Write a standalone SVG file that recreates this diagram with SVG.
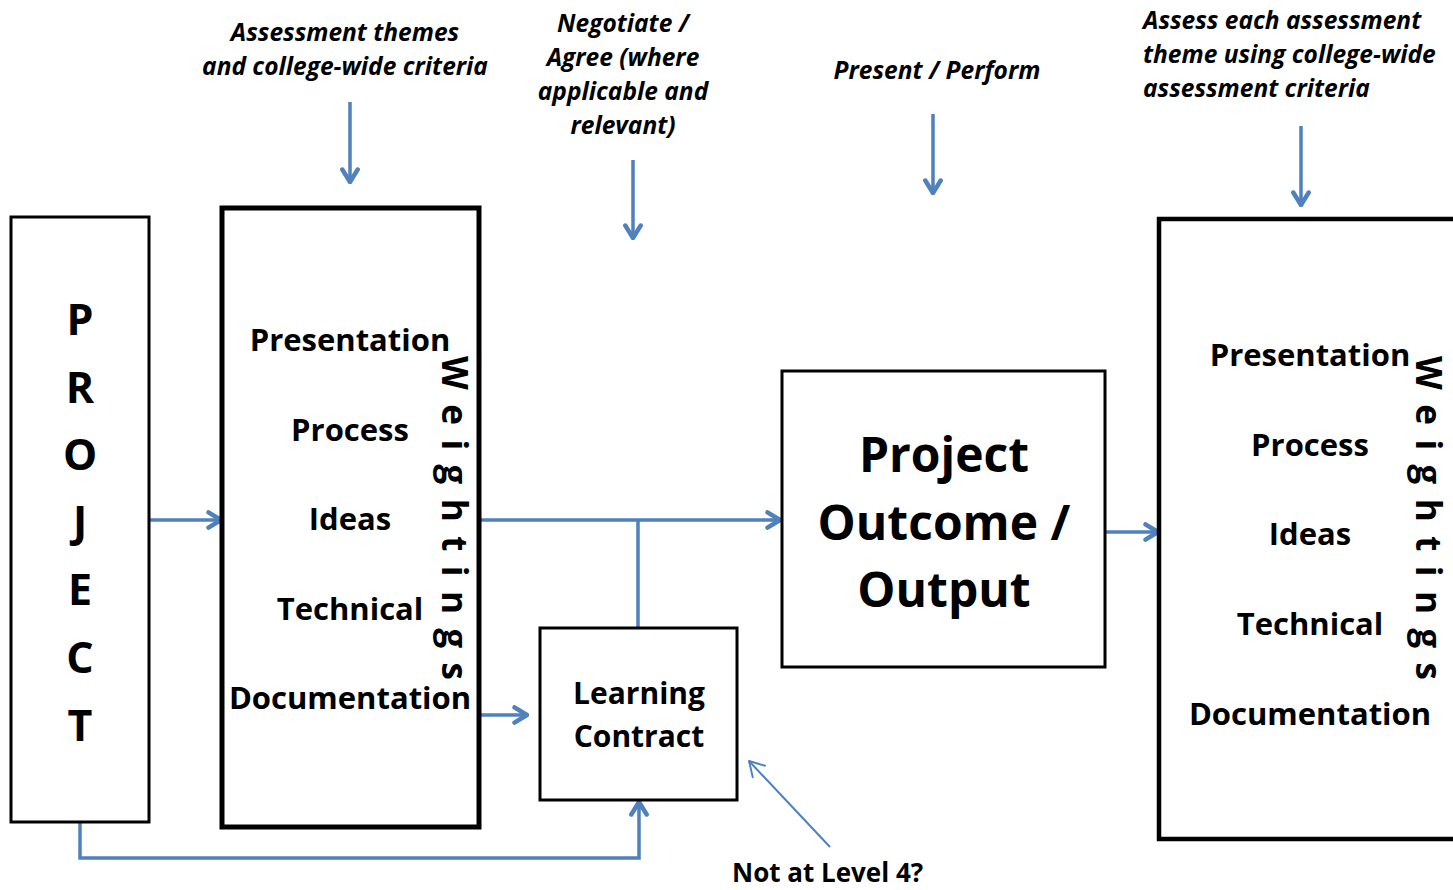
<svg xmlns="http://www.w3.org/2000/svg" width="1453" height="890" viewBox="0 0 1453 890">
  <style>
    .box { fill: #ffffff; stroke: #000000; }
    .lbl { font-family: "Open Sans", "Noto Sans", sans-serif; font-weight: 700; fill: #000000; }
    .note { font-family: "Open Sans", "Noto Sans", sans-serif; font-weight: 700; font-style: italic; font-size: 24.5px; fill: #000000; }
    .conn { fill: none; stroke: #4f81bd; stroke-width: 3.5; }
    .thin { fill: none; stroke: #4f81bd; stroke-width: 2; }
  </style>
  <defs>
    <marker id="chev" viewBox="0 0 10 10" refX="9" refY="5" markerWidth="5.5" markerHeight="5.5" markerUnits="strokeWidth" orient="auto">
      <polyline points="2.5,1 9,5 2.5,9" fill="none" stroke="#4f81bd" stroke-width="2.3" stroke-linecap="round" stroke-linejoin="round"/>
    </marker>
    <marker id="chevThin" viewBox="0 0 10 10" refX="9" refY="5" markerWidth="12" markerHeight="12" markerUnits="strokeWidth" orient="auto">
      <polyline points="3,1.5 9,5 3,8.5" fill="none" stroke="#4f81bd" stroke-width="0.8" stroke-linecap="round" stroke-linejoin="round"/>
    </marker>
  </defs>
  <rect width="1453" height="890" fill="#ffffff"/>

  <!-- connectors -->
  <g id="connectors">
    <line class="conn" x1="350" y1="102" x2="350" y2="182" marker-end="url(#chev)"/>
    <line class="conn" x1="633" y1="160" x2="633" y2="238" marker-end="url(#chev)"/>
    <line class="conn" x1="933" y1="114" x2="933" y2="193" marker-end="url(#chev)"/>
    <line class="conn" x1="1301" y1="126" x2="1301" y2="205" marker-end="url(#chev)"/>
    <line class="conn" x1="149" y1="520" x2="221" y2="520" marker-end="url(#chev)"/>
    <line class="conn" x1="480" y1="520" x2="780" y2="520" marker-end="url(#chev)"/>
    <line class="conn" x1="638" y1="520" x2="638" y2="628"/>
    <line class="conn" x1="480" y1="715" x2="527" y2="715" marker-end="url(#chev)"/>
    <polyline class="conn" points="80,822 80,858 639,858 639,802" marker-end="url(#chev)"/>
    <line class="conn" x1="1105" y1="532" x2="1158" y2="532" marker-end="url(#chev)"/>
    <line class="thin" x1="830" y1="847" x2="749" y2="761" marker-end="url(#chevThin)"/>
  </g>

  <!-- annotations -->
  <g id="notes">
    <text class="note" text-anchor="middle" x="345" y="41">Assessment themes</text>
    <text class="note" text-anchor="middle" x="345" y="75">and college-wide criteria</text>
    <text class="note" text-anchor="middle" x="623" y="32">Negotiate /</text>
    <text class="note" text-anchor="middle" x="623" y="66">Agree (where</text>
    <text class="note" text-anchor="middle" x="623" y="100">applicable and</text>
    <text class="note" text-anchor="middle" x="623" y="134">relevant)</text>
    <text class="note" text-anchor="middle" x="937" y="79">Present / Perform</text>
    <text class="note" x="1143" y="29">Assess each assessment</text>
    <text class="note" x="1143" y="63">theme using college-wide</text>
    <text class="note" x="1143" y="97">assessment criteria</text>
    <text class="lbl" font-size="26" x="732" y="882">Not at Level 4?</text>
  </g>

  <!-- project -->
  <g id="project">
    <rect class="box" x="11" y="217" width="138" height="605" stroke-width="3"/>
    <g class="lbl" font-size="43" text-anchor="middle">
      <text x="80" y="335">P</text>
      <text x="80" y="403">R</text>
      <text x="80" y="470">O</text>
      <text x="80" y="537">J</text>
      <text x="80" y="605">E</text>
      <text x="80" y="673">C</text>
      <text x="80" y="741">T</text>
    </g>
  </g>

  <!-- assessment themes -->
  <g id="themes">
    <rect class="box" x="222" y="208" width="257" height="619" stroke-width="5"/>
    <g class="lbl" font-size="31" text-anchor="middle">
      <text x="350" y="351">Presentation</text>
      <text x="350" y="441">Process</text>
      <text x="350" y="530">Ideas</text>
      <text x="350" y="620">Technical</text>
      <text x="350" y="709">Documentation</text>
    </g>
    <text class="lbl" font-size="35" transform="translate(442,356) rotate(90)" x="0" y="0" textLength="324" lengthAdjust="spacing">Weightings</text>
  </g>

  <!-- learning contract -->
  <g id="contract">
    <rect class="box" x="540" y="628" width="197" height="172" stroke-width="3"/>
    <g class="lbl" font-size="30" text-anchor="middle">
      <text x="639" y="704">Learning</text>
      <text x="639" y="747">Contract</text>
    </g>
  </g>

  <!-- outcome -->
  <g id="outcome">
    <rect class="box" x="782" y="371" width="323" height="296" stroke-width="3"/>
    <g class="lbl" font-size="48" text-anchor="middle">
      <text x="944" y="472">Project</text>
      <text x="944" y="540">Outcome /</text>
      <text x="944" y="607">Output</text>
    </g>
  </g>

  <!-- assessment -->
  <g id="assessment">
    <rect class="box" x="1159" y="219" width="310" height="620" stroke-width="4.5"/>
    <g class="lbl" font-size="31" text-anchor="middle">
      <text x="1310" y="366">Presentation</text>
      <text x="1310" y="456">Process</text>
      <text x="1310" y="545">Ideas</text>
      <text x="1310" y="635">Technical</text>
      <text x="1310" y="725">Documentation</text>
    </g>
    <text class="lbl" font-size="35" transform="translate(1416,356) rotate(90)" x="0" y="0" textLength="324" lengthAdjust="spacing">Weightings</text>
  </g>
</svg>
